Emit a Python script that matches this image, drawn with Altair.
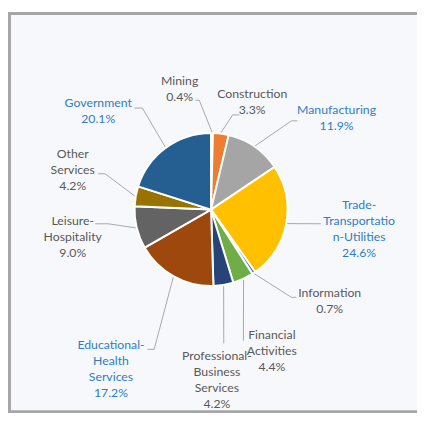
import math
import altair as alt
import pandas as pd

# ---- data ----
categories = ["Mining", "Construction", "Manufacturing", "Trade-Transportation-Utilities",
              "Information", "Financial Activities", "Professional-Business Services",
              "Educational-Health Services", "Leisure-Hospitality", "Other Services", "Government"]
shares = [0.4, 3.3, 11.9, 24.6, 0.7, 4.4, 4.2, 17.2, 9.0, 4.2, 20.1]
label_lines = [["Mining", "0.4%"], ["Construction", "3.3%"], ["Manufacturing", "11.9%"],
               ["Trade-", "Transportatio", "n-Utilities", "24.6%"], ["Information", "0.7%"],
               ["Financial", "Activities", "4.4%"], ["Professional-", "Business", "Services", "4.2%"],
               ["Educational-", "Health", "Services", "17.2%"], ["Leisure-", "Hospitality", "9.0%"],
               ["Other", "Services", "4.2%"], ["Government", "20.1%"]]
highlighted = ["Manufacturing", "Trade-Transportation-Utilities", "Educational-Health Services", "Government"]

# ---- styles / layout ----
slice_colors = ["#5B9BD5", "#ED7D31", "#A5A5A5", "#FFC000", "#4472C4", "#70AD47",
                "#264478", "#9E480E", "#636363", "#997300", "#255E91"]
BLUE = "#2E7DC6"
GRAY = "#595959"
OFF = 8  # page margin
CX, CY, R = 215 - OFF, 209.5 - OFF, 78
LH = 16.3
label_anchor = [(183, 78), (257, 92), (343, 108), (366, 205), (336, 295), (277, 337),
                (221, 359), (113, 348), (74, 221), (74, 153), (100, 101)]
leader_elbow = [(203, 98), (237, 113), (297, 119), (327, 224), (297, 299), (248, 343),
                (228, 346), (157, 352), (110, 224), (107, 173), (145, 106)]
leader_end = [(199, 98), (244, 113), (303, 119), (327, 224), (302, 299), (248, 343),
              (228, 346), (150, 352), (97, 224), (100, 173), (137, 106)]

df = pd.DataFrame({
    "category": categories,
    "share": shares,
    "idx": list(range(len(categories))),
    "elx": [p[0] - OFF for p in leader_elbow],
    "ely": [p[1] - OFF for p in leader_elbow],
    "enx": [p[0] - OFF for p in leader_end],
    "eny": [p[1] - OFF for p in leader_end],
})

rows = []
for cat, lines, (ax, ay) in zip(categories, label_lines, label_anchor):
    for i, t in enumerate(lines):
        rows.append({"text": t, "x": ax - OFF, "y": ay - OFF + i * LH,
                     "col": BLUE if cat in highlighted else GRAY})
df_text = pd.DataFrame(rows)

W, H = 417, 410

frame = alt.Chart(pd.DataFrame({"a": [0]})).mark_rect(
    fill="#F7F8FB", stroke="#A6A6A6", strokeWidth=3
).encode(x=alt.value(1.5), x2=alt.value(W + 20), y=alt.value(1.5), y2=alt.value(407.5))

arcs = alt.Chart(df).mark_arc(outerRadius=R, stroke="white", strokeWidth=2).encode(
    theta=alt.Theta("share:Q", stack=True),
    order=alt.Order("idx:Q"),
    color=alt.Color("category:N", scale=alt.Scale(domain=categories, range=slice_colors), legend=None),
    x=alt.value(CX), y=alt.value(CY),
)

base = alt.Chart(df).transform_window(
    cum="sum(share)", sort=[alt.SortField("idx")], frame=[None, 0]
).transform_joinaggregate(total="sum(share)").transform_calculate(
    mid=f"(datum.cum - datum.share/2) / datum.total * 2 * PI",
).transform_calculate(
    sx=f"{CX} + {R + 1} * sin(datum.mid)",
    sy=f"{CY} - {R + 1} * cos(datum.mid)",
)

lead1 = base.mark_rule(color="#A6A6A6", strokeWidth=1).encode(
    x=alt.X("sx:Q", scale=None, axis=None), y=alt.Y("sy:Q", scale=None, axis=None),
    x2="elx:Q", y2="ely:Q")
lead2 = base.mark_rule(color="#A6A6A6", strokeWidth=1).encode(
    x=alt.X("elx:Q", scale=None, axis=None), y=alt.Y("ely:Q", scale=None, axis=None),
    x2="enx:Q", y2="eny:Q")

labels = alt.Chart(df_text).mark_text(font="Lato", fontSize=12.5, align="center", baseline="middle").encode(
    x=alt.X("x:Q", scale=None, axis=None), y=alt.Y("y:Q", scale=None, axis=None),
    text="text:N", color=alt.Color("col:N", scale=None))

chart = alt.layer(frame, arcs, lead1, lead2, labels).properties(
    width=W, height=H, autosize=alt.AutoSizeParams(type="none"), padding=0,
    background="white"
).configure_view(stroke=None)

chart.save("out.html", embed_options={"renderer": "svg", "actions": False})
